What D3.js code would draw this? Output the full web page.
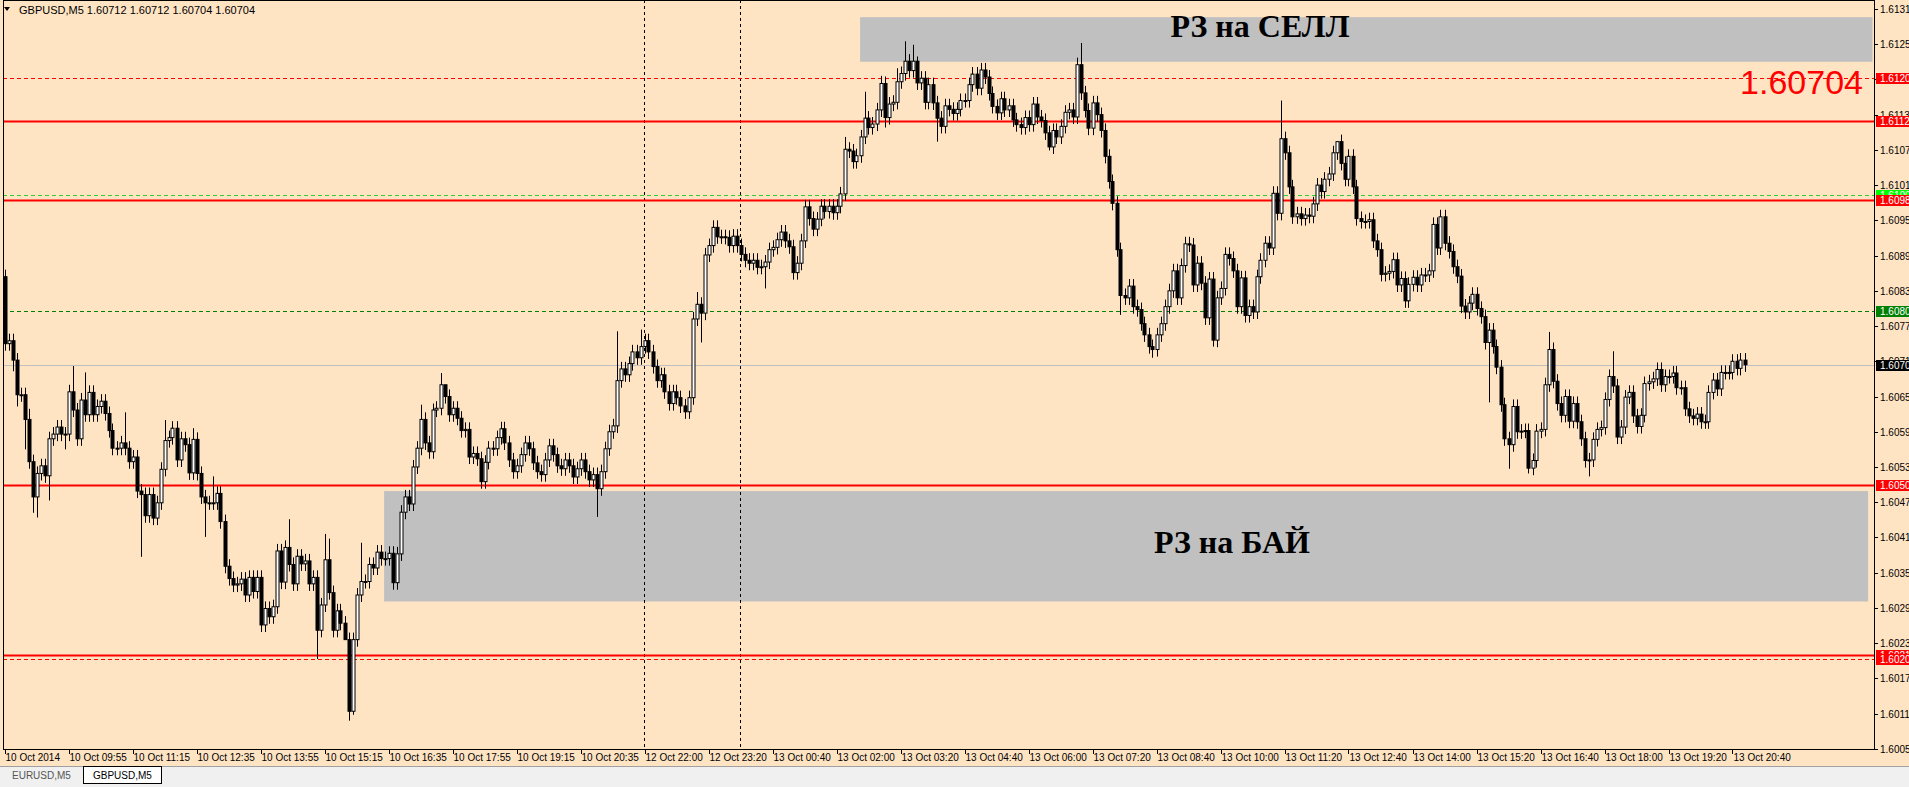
<!DOCTYPE html>
<html>
<head>
<meta charset="utf-8">
<script src="https://cdn.jsdelivr.net/npm/d3@7"></script>
<style>
body { margin: 0; background: #ffe4c4; overflow: hidden; }
svg { display: block; }
</style>
</head>
<body>
<script>
// closes in pips above 1.6000, one per M5 bar
const firstOpen = 85.4
const closes = [
	74.0,74.5,71.2,65.3,65.3,61.1,53.9,47.9,51.9,53.2,51.5,57.8,58.6,59.8,58.6,58.6,65.8,62.7,57.8,64.4,61.9,65.7,61.9,63.3,64.2,62.1,59.2,56.2,56.2,57.1,56.2,53.9,54.7,48.9,48.3,44.7,48.3,44.3,46.9,52.6,57.5,58.0,59.6,54.2,57.8,56.8,52.0,57.7,51.9,47.9,46.9,46.9,46.9,48.5,43.7,36.1,34.0,32.9,33.1,33.9,31.2,34.2,
	31.8,34.2,26.1,28.9,27.5,29.2,38.7,33.4,39.3,36.4,33.1,37.8,36.5,37.0,33.1,34.2,25.2,29.5,37.2,31.6,25.2,28.5,26.4,23.6,11.4,23.6,31.2,33.5,33.5,36.4,35.8,38.5,37.4,37.4,38.3,33.3,38.2,45.3,47.9,46.7,
	53.0,56.2,61.1,57.1,55.6,62.7,63.0,67.0,65.0,61.9,63.0,61.3,59.2,59.4,54.7,55.3,54.4,50.5,53.8,56.2,
	56.1,58.0,59.5,57.1,54.2,52.2,53.2,55.1,57.1,56.1,53.7,52.2,51.7,54.2,56.6,55.1,53.2,52.7,54.2,53.2,51.3,52.7,54.2,52.2,50.8,51.7,
	49.3,52.2,56.1,59.0,60.0,
	67.7,69.7,68.7,70.6,72.6,71.6,73.5,74.5,72.6,70.1,67.7,68.7,65.8,63.8,65.8,64.8,63.4,62.4,64.8,
	78.2,80.7,79.2,89.1,90.7,93.8,92.2,
	92.2,92.1,90.7,92.3,90.7,89.2,88.2,87.7,88.2,87.0,87.1,87.9,90.0,90.4,91.7,93.0,91.5,90.5,86.1,87.7,91.5,97.3,95.3,93.5,95.2,97.4,96.5,97.4,96.3,97.4,99.5,107.1,106.8,105.0,106.0,109.2,112.4,110.8,111.4,113.8,118.3,112.5,114.8,115.1,118.6,120.0,122.1,120.5,122.1,118.4,119.2,115.1,118.1,115.0,112.4,111.0,114.5,113.9,113.2,113.9,
	115.4,115.4,118.1,119.9,117.5,120.6,119.4,116.6,114.4,113.3,115.7,113.8,114.5,112.1,111.3,110.8,112.5,111.3,114.8,112.6,112.0,109.9,107.5,110.3,109.2,111.0,113.4,113.8,112.6,121.5,116.7,113.7,110.7,115.0,113.0,110.3,105.9,101.6,97.9,90.0,82.2,81.8,83.8,80.3,79.8,
	77.4,75.5,73.5,73.0,75.5,77.4,80.3,
	83.0,86.4,81.8,87.3,91.0,90.8,84.0,87.7,84.3,78.4,85.0,
	74.6,81.8,83.4,89.2,88.5,86.4,80.3,85.2,78.8,80.3,79.4,85.4,88.2,91.1,90.3,99.6,96.2,108.9,106.5,100.7,95.6,96.1,95.3,95.9,95.7,97.8,101.0,99.9,102.0,102.9,106.5,108.4,104.7,102.0,105.9,100.7,95.3,94.8,94.8,95.1,91.5,90.0,85.8,86.0,86.3,88.3,84.0,85.1,81.3,84.1,85.3,84.0,85.7,85.7,86.4,94.3,90.3,95.6,91.1,89.7,
	87.1,
	85.5,80.4,79.4,80.9,82.4,80.0,78.6,74.2,76.3,73.5,70.0,63.6,57.8,56.8,63.3,59.0,59.1,59.2,52.8,54.1,59.1,59.4,67.0,73.0,67.6,63.8,61.8,65.0,60.8,63.8,60.7,57.8,54.1,54.2,57.7,59.4,59.7,64.5,68.4,66.8,58.1,59.8,64.9,65.7,61.7,59.9,61.8,67.2,67.5,68.0,69.6,67.0,68.4,68.4,69.0,66.5,66.5,62.9,61.7,61.3,62.0,60.7,60.7,65.7,67.8,66.3,69.1,69.1,69.1,71.0,69.8,71.2,70.4
]
// notable wick extremes: bar -> [high, low] (null = ordinary wick)
const spikes = {
	0:[86.6,null],2:[null,69.3],3:[null,63.3],5:[null,56.0],6:[62.9,null],7:[null,45.2],8:[null,44.4],11:[null,47.3],15:[null,56.0],17:[70.2,null],20:[69.1,null],30:[62.3,null],34:[null,37.7],40:[61.0,null],47:[59.6,null],50:[null,41.1],52:[51.4,null],
	71:[44.1,null],78:[null,20.3],80:[41.6,null],81:[40.8,null],85:[null,24.1],86:[null,9.8],87:[null,10.8],89:[40.1,null],
	104:[63.6,null],107:[63.8,null],109:[69.0,null],110:[66.3,null],114:[null,58.0],148:[null,44.5],153:[76.1,null],159:[76.4,null],173:[82.8,null],174:[null,74.2],
	190:[null,83.4],210:[109.2,null],215:[116.9,null],219:[119.6,null],220:[null,110.8],223:[120.9,null],225:[125.5,null],227:[124.9,null],228:[122.9,null],233:[null,108.4],
	261:[null,106.9],269:[125.2,null],279:[null,78.9],287:[null,71.6],302:[null,73.5],319:[115.4,null],333:[108.4,null],
	371:[null,64.0],376:[null,52.7],381:[null,51.9],386:[76.0,null],396:[null,51.4],402:[72.7,null]
}
const baseWick = 1.2

const timeLabels = ['10 Oct 2014','10 Oct 09:55','10 Oct 11:15','10 Oct 12:35','10 Oct 13:55','10 Oct 15:15','10 Oct 16:35','10 Oct 17:55','10 Oct 19:15','10 Oct 20:35','12 Oct 22:00','12 Oct 23:20','13 Oct 00:40','13 Oct 02:00','13 Oct 03:20','13 Oct 04:40','13 Oct 06:00','13 Oct 07:20','13 Oct 08:40','13 Oct 10:00','13 Oct 11:20','13 Oct 12:40','13 Oct 14:00','13 Oct 15:20','13 Oct 16:40','13 Oct 18:00','13 Oct 19:20','13 Oct 20:40']
const labelStep = 16
const priceTicks = d3.range(0, 22).map(k => 1.6005 + k * 0.0006)

// horizontal levels: [price, colour, dashed, label, labelBg, labelFg]
const levels = [
	[1.61193, '#ff0000', true, '1.6120', '#ff0000', '#fff'],
	[1.61120, '#ff0000', false, '1.6112', '#ff0000', '#fff'],
	[1.60993, '#32cd32', true, '1.6100', '#00ff00', '#fff'],
	[1.60985, '#ff0000', false, '1.6098', '#ff0000', '#fff'],
	[1.60795, '#008000', true, '1.6080', '#008000', '#fff'],
	[1.60704, '#c0c0c0', false, '1.6070', '#000', '#fff'],
	[1.60500, '#ff0000', false, '1.6050', '#ff0000', '#fff'],
	[1.60210, '#ff0000', false, '1.6021', '#ff0000', '#fff'],
	[1.60203, '#ff0000', true, '1.6020', '#ff0000', '#fff']
]
const zones = [
	{ from: 213.9, to: 467, top: 1.61296, bottom: 1.61220, text: 'РЗ на СЕЛЛ', tx: 1260, ty: 30 },
	{ from: 94.9, to: 465.9, top: 1.60489, bottom: 1.60301, text: 'РЗ на БАЙ', tx: 1232, ty: 546 }
]
const separators = [160, 184]

const W = 1909, H = 787
const plotL = 3, plotR = 1874, plotT = 0, plotB = 749

const svg = d3.select('body').append('svg').attr('width', W).attr('height', H)
	.style('font-family', '"Liberation Sans", Arial, sans-serif')

const x = d3.scaleLinear().domain([0, 435]).range([4.5, 1744.5])
const y = d3.scaleLinear().domain([1.6050, 1.6112]).range([484.6, 120.5])
const p = v => 1.6 + v / 10000

const candles = closes.map((c, i) => {
	const o = i === 0 ? firstOpen : closes[i - 1]
	const s = spikes[i] || [null, null]
	return {
		i, o, c,
		h: s[0] != null ? s[0] : Math.max(o, c) + baseWick,
		l: s[1] != null ? s[1] : Math.min(o, c) - baseWick
	}
})

svg.append('clipPath').attr('id', 'clip').append('rect')
	.attr('x', plotL).attr('y', plotT).attr('width', plotR - plotL).attr('height', plotB - plotT)
const plot = svg.append('g').attr('clip-path', 'url(#clip)')

// zones
plot.selectAll('rect.zone').data(zones).enter().append('rect')
	.attr('x', d => x(d.from))
	.attr('width', d => Math.min(x(d.to), plotR) - x(d.from))
	.attr('y', d => y(d.top))
	.attr('height', d => y(d.bottom) - y(d.top))
	.attr('fill', '#c0c0c0')

// separators
plot.selectAll('line.sep').data(separators).enter().append('line')
	.attr('x1', d => x(d)).attr('x2', d => x(d))
	.attr('y1', plotT).attr('y2', plotB)
	.attr('stroke', '#000').attr('stroke-dasharray', '3,3')

// levels
plot.selectAll('line.level').data(levels).enter().append('line')
	.attr('x1', plotL).attr('x2', plotR)
	.attr('y1', d => Math.round(y(d[0])) + 0.5).attr('y2', d => Math.round(y(d[0])) + 0.5)
	.attr('stroke', d => d[1])
	.attr('stroke-width', d => d[2] || d[1] === '#c0c0c0' ? 1 : 2)
	.attr('stroke-dasharray', d => d[2] ? '4,3' : null)

// candles
const cg = plot.append('g').selectAll('g').data(candles).enter().append('g')
cg.append('line')
	.attr('x1', d => Math.round(x(d.i)) + 0.5).attr('x2', d => Math.round(x(d.i)) + 0.5)
	.attr('y1', d => y(p(d.h))).attr('y2', d => y(p(d.l)))
	.attr('stroke', '#000')
cg.append('rect')
	.attr('x', d => Math.round(x(d.i)) - 1)
	.attr('width', 3)
	.attr('y', d => y(p(Math.max(d.o, d.c))))
	.attr('height', d => Math.max(1, y(p(Math.min(d.o, d.c))) - y(p(Math.max(d.o, d.c)))))
	.attr('fill', d => d.c >= d.o ? '#fff' : '#000')
	.attr('stroke', '#000').attr('stroke-width', 1)

// zone texts
svg.selectAll('text.zone').data(zones).enter().append('text')
	.attr('x', d => d.tx).attr('y', d => d.ty)
	.attr('text-anchor', 'middle').attr('dominant-baseline', 'middle')
	.style('font-family', '"Liberation Serif", "Times New Roman", serif')
	.style('font-weight', 'bold').style('font-size', '32px')
	.text(d => d.text)

svg.append('text').attr('x', 1863).attr('y', 94).attr('text-anchor', 'end')
	.style('font-size', '34px').attr('fill', '#ff0000').text('1.60704')

// frame
svg.append('rect').attr('x', plotL + 0.5).attr('y', 0.5)
	.attr('width', plotR - plotL).attr('height', plotB)
	.attr('fill', 'none').attr('stroke', '#000')

// price axis
const pa = svg.append('g')
pa.selectAll('line').data(priceTicks).enter().append('line')
	.attr('x1', plotR).attr('x2', plotR + 4)
	.attr('y1', d => Math.round(y(d)) + 0.5).attr('y2', d => Math.round(y(d)) + 0.5)
	.attr('stroke', '#000')
pa.selectAll('text').data(priceTicks).enter().append('text')
	.attr('x', plotR + 6).attr('y', d => y(d) + 4)
	.style('font-size', '10px').text(d => d.toFixed(4))

const lb = svg.append('g').selectAll('g').data(levels).enter().append('g')
	.attr('transform', d => `translate(${plotR + 2},${Math.round(y(d[0])) - 5})`)
lb.append('rect').attr('width', 40).attr('height', 11).attr('fill', d => d[4])
lb.append('text').attr('x', 4).attr('y', 9).style('font-size', '10px')
	.attr('fill', d => d[5]).text(d => d[3])

// time axis
const ta = svg.append('g')
const tickBars = timeLabels.map((t, k) => k * labelStep)
ta.selectAll('line').data(tickBars).enter().append('line')
	.attr('x1', d => Math.round(x(d)) + 0.5).attr('x2', d => Math.round(x(d)) + 0.5)
	.attr('y1', plotB).attr('y2', plotB + 5).attr('stroke', '#000')
ta.selectAll('text').data(timeLabels).enter().append('text')
	.attr('x', (d, k) => x(k * labelStep) + 1).attr('y', plotB + 12)
	.style('font-size', '10px').text(d => d)

// header
svg.append('path').attr('d', 'M4,7 L10,7 L7,11 Z').attr('fill', '#000')
svg.append('text').attr('x', 19).attr('y', 14).style('font-size', '11px')
	.text('GBPUSD,M5  1.60712 1.60712 1.60704 1.60704')

// tab strip
svg.append('rect').attr('x', 0).attr('y', 766).attr('width', W).attr('height', 21).attr('fill', '#f0f0f0')
svg.append('line').attr('x1', 0).attr('x2', W).attr('y1', 766.5).attr('y2', 766.5).attr('stroke', '#a0a0a0')
svg.append('rect').attr('x', 83.5).attr('y', 766.5).attr('width', 78).attr('height', 17)
	.attr('fill', '#fff').attr('stroke', '#000')
svg.append('text').attr('x', 12).attr('y', 779).style('font-size', '10px').attr('fill', '#555').text('EURUSD,M5')
svg.append('text').attr('x', 93).attr('y', 779).style('font-size', '10px').text('GBPUSD,M5')
</script>
</body>
</html>
